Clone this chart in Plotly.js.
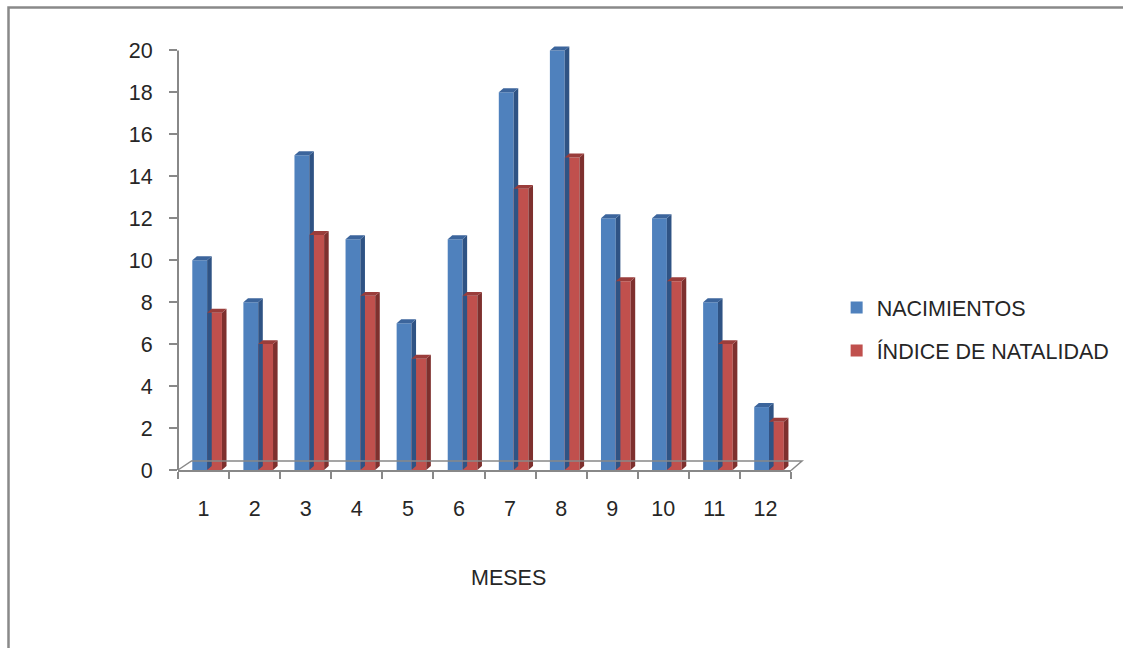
<!DOCTYPE html>
<html>
<head>
<meta charset="utf-8">
<script src="https://cdn.plot.ly/plotly-3.0.1.min.js"></script>
<style>
html,body{margin:0;padding:0;background:#fff;}
#chart{width:1123px;height:648px;}
</style>
</head>
<body>
<div id="chart"></div>
<script>
// ---- data ----
var meses = [1, 2, 3, 4, 5, 6, 7, 8, 9, 10, 11, 12];
var mesLabels = ["1", "2", "3", "4", "5", "6", "7", "8", "9", "10", "11", "12"];
var nacimientos = [10, 8, 15, 11, 7, 11, 18, 20, 12, 12, 8, 3];
var indiceNatalidad = [7.5, 6.0, 11.2, 8.3, 5.3, 8.3, 13.4, 14.9, 9.0, 9.0, 6.0, 2.3];
var seriesNames = ["NACIMIENTOS", "ÍNDICE DE NATALIDAD"];
var yTicks = [0, 2, 4, 6, 8, 10, 12, 14, 16, 18, 20];

// ---- style ----
var W = 1123, H = 648;
var mL = 178, mR = 332, mT = 42, mB = 178;
var yMax = 20.4;
var barW = 0.29;
var offBlue = -0.22, offRed = 0.07;
var dx = 0.09, dy = 0.19; // pseudo-3D depth in data units
var font = "Liberation Sans, Arial, sans-serif";
var fs = 21.5;
var txt = "#262626";
var axisCol = "#888888";

var colors = {
  blue: {front: "#4f81bd", side: "#2f5384", top: "#3c659c"},
  red: {front: "#c0504d", side: "#7e302e", top: "#9a3d3b"}
};

var traces = [
  {type: "bar", name: seriesNames[0], x: meses, y: nacimientos, width: barW, offset: offBlue,
   marker: {color: colors.blue.front}, legendgroup: "a", hoverinfo: "x+y"},
  {type: "bar", name: seriesNames[1], x: meses, y: indiceNatalidad, width: barW, offset: offRed,
   marker: {color: colors.red.front}, legendgroup: "b", hoverinfo: "x+y"}
];

var shapes = [];
function faces(xs, ys, off, c) {
  for (var i = 0; i < xs.length; i++) {
    var L = xs[i] + off, R = L + barW, v = ys[i];
    shapes.push({type: "path", xref: "x", yref: "y", layer: "above", line: {width: 0},
      fillcolor: c.side,
      path: "M" + R + "," + 0 + " L" + (R + dx) + "," + dy + " L" + (R + dx) + "," + (v + dy) + " L" + R + "," + v + " Z"});
    shapes.push({type: "path", xref: "x", yref: "y", layer: "above", line: {width: 0},
      fillcolor: c.top,
      path: "M" + L + "," + v + " L" + (L + dx) + "," + (v + dy) + " L" + (R + dx) + "," + (v + dy) + " L" + R + "," + v + " Z"});
  }
}
faces(meses, nacimientos, offBlue, colors.blue);
faces(meses, indiceNatalidad, offRed, colors.red);

// pixel -> paper helpers for decorations
var pw = W - mL - mR, ph = H - mT - mB;
function px(x) { return (x - mL) / pw; }
function py(y) { return (H - mB - y) / ph; }

// y axis line (0..20)
shapes.push({type: "line", xref: "paper", yref: "paper", x0: 0, x1: 0, y0: 0, y1: 20 / yMax,
  line: {color: axisCol, width: 2}});
// floor
shapes.push({type: "path", xref: "paper", yref: "paper", line: {color: axisCol, width: 1.5},
  path: "M" + px(178) + "," + py(470) + " L" + px(191.5) + "," + py(461) + " L" + px(802) + "," + py(461) + " L" + px(791) + "," + py(470.5)});
// outer frame (left and top)
shapes.push({type: "path", xref: "paper", yref: "paper", line: {color: "#898989", width: 2.5},
  path: "M" + px(8.5) + "," + py(650) + " L" + px(8.5) + "," + py(7.5) + " L" + px(1125) + "," + py(7.5)});

var layout = {
  width: W, height: H,
  margin: {l: mL, r: mR, t: mT, b: mB, pad: 0},
  paper_bgcolor: "#ffffff", plot_bgcolor: "rgba(0,0,0,0)",
  font: {family: font, size: fs, color: txt},
  barmode: "overlay",
  showlegend: true,
  legend: {xref: "container", yref: "container", x: 0.745, y: 0.557, xanchor: "left", yanchor: "top",
    font: {family: font, size: fs, color: txt}, tracegroupgap: 12, bgcolor: "rgba(0,0,0,0)"},
  xaxis: {type: "linear", range: [0.5, 12.5], tickvals: meses, ticktext: mesLabels, ticks: "",
    showgrid: false, zeroline: false, showline: true, linecolor: axisCol, linewidth: 2,
    ticklabelstandoff: 18, tickfont: {family: font, size: fs, color: txt},
    minor: {tick0: 0.5, dtick: 1, ticks: "outside", ticklen: 7, tickcolor: axisCol, tickwidth: 2, showgrid: false},
    fixedrange: true},
  yaxis: {range: [0, yMax], tickvals: yTicks, ticks: "outside", ticklen: 8, tickcolor: axisCol, tickwidth: 2,
    showgrid: false, zeroline: false, showline: false, ticklabelstandoff: 12,
    tickfont: {family: font, size: fs, color: txt}, fixedrange: true},
  shapes: shapes,
  annotations: [{text: "MESES", xref: "paper", yref: "paper", x: px(508), y: py(578),
    xanchor: "center", yanchor: "middle", showarrow: false, font: {family: font, size: fs, color: txt}}]
};

Plotly.newPlot("chart", traces, layout, {displayModeBar: false, staticPlot: true});
</script>
</body>
</html>
